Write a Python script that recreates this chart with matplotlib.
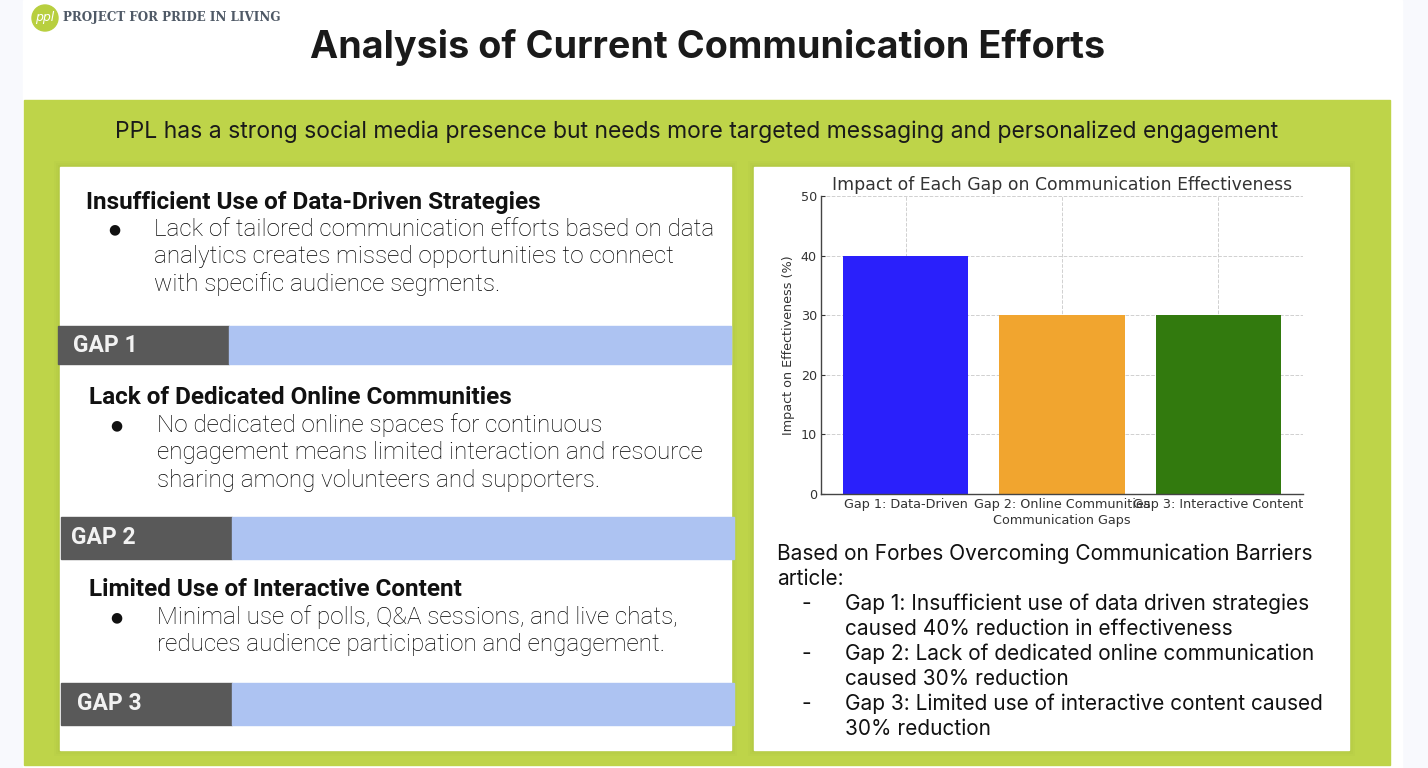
import matplotlib
matplotlib.use("Agg")
import matplotlib.pyplot as plt
from matplotlib.patches import Rectangle, Circle

W, H = 1428, 768

# chart data
gap_labels = ["Gap 1: Data-Driven", "Gap 2: Online Communities", "Gap 3: Interactive Content"]
impact_pct = [40, 30, 30]
bar_colors = ["#2a20fb", "#f1a52f", "#327a0e"]

title = "Analysis of Current Communication Efforts"
subtitle = ("PPL has a strong social media presence but needs more targeted "
            "messaging and personalized engagement")

gap_headings = [
    "Insufficient Use of Data-Driven Strategies",
    "Lack of Dedicated Online Communities",
    "Limited Use of Interactive Content",
]
gap_bodies = [
    ["Lack of tailored communication efforts based on data",
     "analytics creates missed opportunities to connect",
     "with specific audience segments."],
    ["No dedicated online spaces for continuous",
     "engagement means limited interaction and resource",
     "sharing among volunteers and supporters."],
    ["Minimal use of polls, Q&A sessions, and live chats,",
     "reduces audience participation and engagement."],
]
gap_tags = ["GAP 1", "GAP 2", "GAP 3"]

source_lines = ["Based on Forbes Overcoming Communication Barriers", "article:"]
source_items = [
    ["Gap 1: Insufficient use of data driven strategies",
     "caused 40% reduction in effectiveness"],
    ["Gap 2: Lack of dedicated online communication",
     "caused 30% reduction"],
    ["Gap 3: Limited use of interactive content caused",
     "30% reduction"],
]

fig = plt.figure(figsize=(W / 100, H / 100), dpi=100)
fig.patch.set_facecolor("#f8f9fd")

# pixel-space canvas for the slide
bg = fig.add_axes([0, 0, 1, 1])
bg.set_xlim(0, W)
bg.set_ylim(H, 0)
bg.axis("off")

bg.add_patch(Rectangle((23, 0), 1379, H, color="white", zorder=0))
bg.add_patch(Rectangle((24, 100), 1366, 665, color="#bed449", zorder=1))

# panels with a soft shadow
for x0, x1 in [(60, 731), (754, 1349)]:
    for k, a in [(6, 0.04), (4, 0.05), (2, 0.07)]:
        bg.add_patch(Rectangle((x0 - k, 167 - k), x1 - x0 + 2 * k, 583 + 2 * k,
                               color="#8a9a30", alpha=a, lw=0, zorder=2))
    bg.add_patch(Rectangle((x0, 167), x1 - x0, 583, color="white", zorder=3))

# logo
bg.add_patch(Circle((45, 18), 13, color="#b8cf3f", zorder=4))
bg.text(45, 18, "ppl", color="white", fontsize=9, style="italic",
        ha="center", va="center", family="DejaVu Sans", zorder=5)
bg.text(63, 18, "PROJECT FOR PRIDE IN LIVING", color="#4f5966", fontsize=9.5,
        fontweight="bold", family="DejaVu Serif", fontstretch="condensed",
        ha="left", va="center", zorder=5)

bg.text(708, 47, title, fontsize=27.2, fontweight="bold", family="Inter",
        color="#1a1a1a", ha="center", va="center", zorder=5)
bg.text(697, 132, subtitle, fontsize=16.5, family="Inter", color="#1a1a1a",
        ha="center", va="center", zorder=5)

# left panel: gaps
head_pos = [(86, 202), (89, 398), (89, 590)]
body_x = [(114, 154), (116, 157), (116, 157)]
tag_pos = [(58, 326, 73), (61, 517, 71), (61, 683, 77)]
tag_h = [38, 42, 42]
for i in range(3):
    hx, hy = head_pos[i]
    bg.text(hx, hy, gap_headings[i], fontsize=17.5, fontweight="bold",
            family="Roboto", color="#111111", ha="left", va="center", zorder=5)
    bx, tx = body_x[i]
    by = hy + 27
    bg.text(bx, by, "\u25cf", fontsize=10, color="#111111", family="DejaVu Sans",
            ha="center", va="center", zorder=5)
    for j, line in enumerate(gap_bodies[i]):
        bg.text(tx, by + 27.5 * j, line, fontsize=17.5, fontweight="light",
                family="Roboto", color="#000000", ha="left", va="center", zorder=5)
    rx, ry, lx = tag_pos[i]
    bg.add_patch(Rectangle((rx, ry), 171, tag_h[i], color="#595959", zorder=4))
    bg.add_patch(Rectangle((rx + 171, ry), 502, tag_h[i], color="#adc3f2", zorder=4))
    bg.text(lx, ry + tag_h[i] / 2, gap_tags[i], fontsize=16.5, fontweight="bold",
            family="Roboto", color="#f2f2f2", ha="left", va="center", zorder=5)

# right panel: source notes
y = 554
for line in source_lines:
    bg.text(777, y, line, fontsize=15, family="Inter", color="#111111",
            ha="left", va="center", zorder=5)
    y += 25
for item in source_items:
    bg.text(806, y, "-", fontsize=15, family="Inter", color="#111111",
            ha="center", va="center", zorder=5)
    for line in item:
        bg.text(845, y, line, fontsize=15, family="Inter", color="#111111",
                ha="left", va="center", zorder=5)
        y += 25

# bar chart
ax = fig.add_axes([821 / W, 1 - 494 / H, 482 / W, 298 / H])
ax.set_facecolor("white")
ax.bar(gap_labels, impact_pct, color=bar_colors, width=0.8, zorder=2)
ax.set_ylim(0, 50)
ax.set_yticks(range(0, 51, 10))
ax.grid(True, linestyle="--", color="#d0d0d0", linewidth=0.7, zorder=0)
ax.set_axisbelow(True)
for s in ["top", "right"]:
    ax.spines[s].set_visible(False)
for s in ["left", "bottom"]:
    ax.spines[s].set_color("#444444")
    ax.spines[s].set_linewidth(1.0)
ax.tick_params(direction="in", length=3, labelsize=9.2, colors="#333333", pad=3)
ax.set_title("Impact of Each Gap on Communication Effectiveness",
             fontsize=12.4, color="#333333", pad=4)
ax.set_xlabel("Communication Gaps", fontsize=9.2, color="#333333", labelpad=2)
ax.set_ylabel("Impact on Effectiveness (%)", fontsize=9.2, color="#333333", labelpad=4)

fig.savefig("out.png", dpi=100, facecolor=fig.get_facecolor())
